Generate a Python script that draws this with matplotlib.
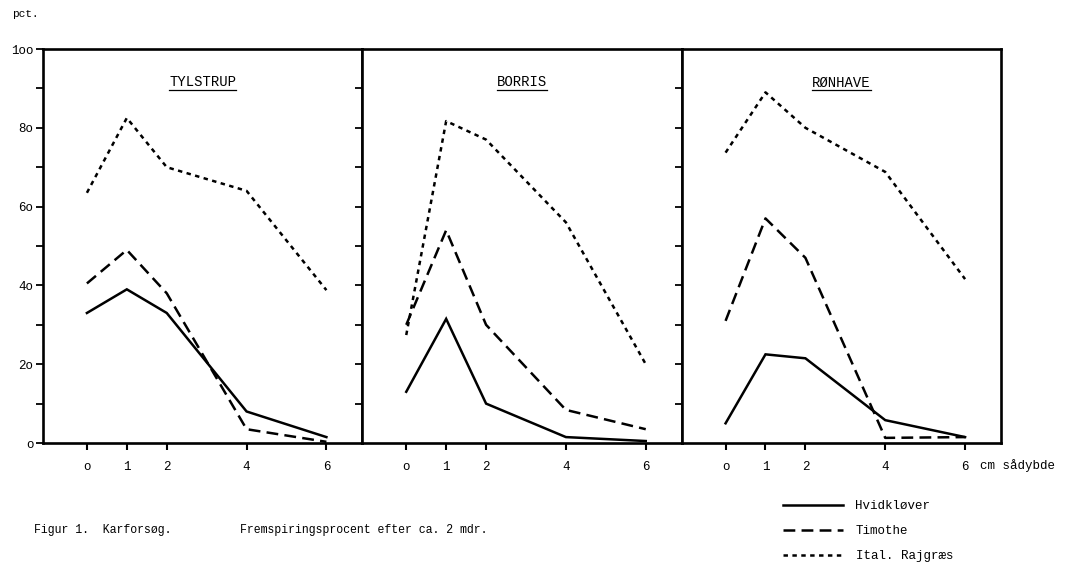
import matplotlib
matplotlib.use('Agg')
from matplotlib import pyplot as plt
from matplotlib.lines import Line2D
import numpy as np

plt.rcParams['font.family'] = ['Liberation Mono', 'DejaVu Sans Mono']
plt.rcParams['font.size'] = 9
plt.rcParams['lines.scale_dashes'] = False

# depth in cm
depth = [0, 1, 2, 4, 6]
depth_labels = ['o', '1', '2', '4', '6']
sites = ['TYLSTRUP', 'BORRIS', 'RØNHAVE']

# germination percent, one list per site
hvidklover = [
    [33, 39, 33, 8, 1.5],
    [13, 31.5, 10, 1.5, 0.5],
    [5, 22.5, 21.5, 5.8, 1.5],
]
timothe = [
    [40.5, 49, 38, 3.5, 0.3],
    [30, 54, 30, 8.4, 3.5],
    [31, 57, 47, 1.3, 1.5],
]
rajgraes = [
    [63.5, 82.5, 70, 64, 38.8],
    [27.4, 81.7, 77, 56, 20],
    [73.7, 89, 80, 68.8, 41.6],
]
series_names = ['Hvidkløver', 'Timothe', 'Ital. Rajgræs']
y_ticks = [0, 20, 40, 60, 80, 100]
y_labels = ['o', '2o', '4o', '6o', '8o', '1oo']

styles = [
    dict(linestyle='-'),
    dict(linestyle=(0, (8.5, 4.5))),
    dict(linestyle=(0, (3.2, 3.2))),
]

fig = plt.figure(figsize=(10.7, 5.68), dpi=100)
gs = fig.add_gridspec(1, 3, left=43/1070, right=1001/1070,
                      bottom=1-443/568, top=1-49/568, wspace=0)
axes = [fig.add_subplot(gs[0, i]) for i in range(3)]

titles = []
for i, ax in enumerate(axes):
    for data, st in zip([hvidklover, timothe, rajgraes], styles):
        ax.plot(depth, data[i], color='black', lw=1.8,
                solid_joinstyle='miter', **st)
    ax.set_xlim(-1.1, 6.9)
    ax.set_ylim(0, 100)
    for sp in ax.spines.values():
        sp.set_linewidth(1.9)
    ax.set_xticks(depth)
    ax.set_xticklabels(depth_labels)
    ax.tick_params(axis='x', direction='out', length=5, width=1.5, pad=8)
    if i == 0:
        ax.set_yticks(y_ticks)
        ax.set_yticklabels(y_labels)
        ax.set_yticks(np.arange(10, 100, 20), minor=True)
        ax.tick_params(axis='y', which='both', direction='out', length=5,
                       width=1.3, pad=2, right=False)
    else:
        ax.set_yticks(np.arange(10, 100, 10))
        ax.tick_params(axis='y', left=False, labelleft=False)
    if i < 2:
        sec = ax.secondary_yaxis('right')
        sec.set_yticks(np.arange(10, 100, 10))
        sec.tick_params(direction='in', length=5, width=1.3, labelright=False)
        sec.spines['right'].set_visible(False)
    t = ax.text(0.5, 0.905, sites[i], transform=ax.transAxes,
                ha='center', va='baseline', fontsize=10)
    titles.append((ax, t))

axes[2].annotate('cm sådybde', xy=(6, 0), xycoords='data',
                 xytext=(11, -16.5), textcoords='offset points',
                 ha='left', va='center')

fig.text(12/1070, 1-17/568, 'pct.', ha='left', va='baseline', fontsize=8)
fig.text(34/1070, 1-533/568, 'Figur 1.  Karforsøg.', ha='left',
         va='baseline', fontsize=8.3)
fig.text(240/1070, 1-533/568, 'Fremspiringsprocent efter ca. 2 mdr.',
         ha='left', va='baseline', fontsize=8.3)

handles = [Line2D([], [], color='black', lw=1.8, **st) for st in styles]
fig.legend(handles, series_names, loc='upper left',
           bbox_to_anchor=(783/1070, 1-500/568), frameon=False,
           handlelength=4.8, handletextpad=1.0, labelspacing=1.05,
           borderpad=0, borderaxespad=0)

# underline the site names
fig.canvas.draw()
r = fig.canvas.get_renderer()
inv = fig.transFigure.inverted()
for ax, t in titles:
    bb = t.get_window_extent(renderer=r)
    (x0, y0), (x1, y1) = inv.transform([(bb.x0, bb.y0), (bb.x1, bb.y1)])
    fig.add_artist(Line2D([x0, x1], [y0 - 1/568, y0 - 1/568],
                          transform=fig.transFigure, color='black', lw=0.9))

fig.savefig('out.png', dpi=100)
